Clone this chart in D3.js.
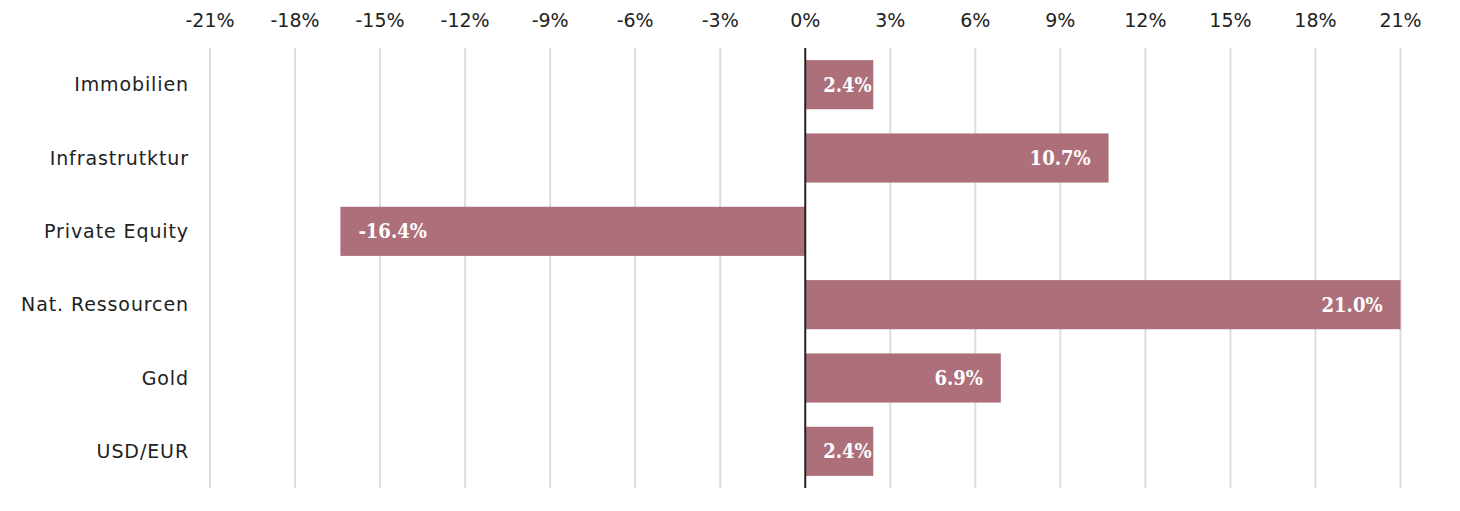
<!DOCTYPE html>
<html>
<head>
<meta charset="utf-8">
<script src="https://cdn.jsdelivr.net/npm/d3@7"></script>
<style>
  body { margin: 0; background: #fff; }
  .tick-label { font-family: "DejaVu Sans", sans-serif; font-size: 19px; fill: #222; }
  .cat-label { font-family: "DejaVu Sans", sans-serif; font-size: 19px; fill: #222; letter-spacing: 0.9px; }
  .bar-label { font-family: "DejaVu Serif", serif; font-stretch: condensed; font-size: 20px; font-weight: bold; fill: #fff; }
</style>
</head>
<body>
<div id="chart"></div>
<script>
// data
const categories = ["Immobilien", "Infrastrutktur", "Private Equity", "Nat. Ressourcen", "Gold", "USD/EUR"];
const values = [2.4, 10.7, -16.4, 21.0, 6.9, 2.4];
const tickValues = [-21, -18, -15, -12, -9, -6, -3, 0, 3, 6, 9, 12, 15, 18, 21];

const width = 1460;
const height = 511;
const margin = { top: 48, right: 60, bottom: 23, left: 210 };
const labelPad = 18;

const svg = d3.select("#chart")
  .append("svg")
  .attr("width", width)
  .attr("height", height);

const x = d3.scaleLinear()
  .domain([-21, 21])
  .range([margin.left, 1400.5]);

const y = d3.scaleBand()
  .domain(categories)
  .range([margin.top, height - margin.bottom])
  .paddingInner(0.33)
  .paddingOuter(0.165);

// grid lines
svg.append("g")
  .selectAll("line")
  .data(tickValues.filter(d => d !== 0))
  .enter()
  .append("line")
  .attr("x1", d => x(d))
  .attr("x2", d => x(d))
  .attr("y1", margin.top)
  .attr("y2", height - margin.bottom)
  .attr("stroke", "#dcdce0")
  .attr("stroke-width", 2);

// top tick labels
svg.append("g")
  .selectAll("text")
  .data(tickValues)
  .enter()
  .append("text")
  .attr("class", "tick-label")
  .attr("x", d => x(d))
  .attr("y", 20)
  .attr("dy", "0.35em")
  .attr("text-anchor", "middle")
  .text(d => d + "%");

// bars
svg.append("g")
  .selectAll("rect")
  .data(values)
  .enter()
  .append("rect")
  .attr("x", d => x(Math.min(0, d)))
  .attr("y", (d, i) => y(categories[i]))
  .attr("width", d => Math.abs(x(d) - x(0)))
  .attr("height", y.bandwidth())
  .attr("fill", "#ad707a");

// value labels inside bars (short bars: label starts just after the zero line)
svg.append("g")
  .selectAll("text")
  .data(values)
  .enter()
  .append("text")
  .attr("class", "bar-label")
  .attr("y", (d, i) => y(categories[i]) + y.bandwidth() / 2)
  .attr("dy", "0.35em")
  .text(d => d.toFixed(1) + "%")
  .each(function (d) {
    const w = this.getComputedTextLength();
    const barW = Math.abs(x(d) - x(0));
    const el = d3.select(this);
    if (d < 0) {
      el.attr("x", x(d) + labelPad).attr("text-anchor", "start");
    } else if (barW < w + 2 * labelPad) {
      el.attr("x", x(0) + labelPad).attr("text-anchor", "start");
    } else {
      el.attr("x", x(d) - labelPad).attr("text-anchor", "end");
    }
  });

// zero line
svg.append("line")
  .attr("x1", x(0))
  .attr("x2", x(0))
  .attr("y1", margin.top)
  .attr("y2", height - margin.bottom)
  .attr("stroke", "#222")
  .attr("stroke-width", 2);

// category labels
svg.append("g")
  .selectAll("text")
  .data(categories)
  .enter()
  .append("text")
  .attr("class", "cat-label")
  .attr("x", 189)
  .attr("y", d => y(d) + y.bandwidth() / 2)
  .attr("dy", "0.35em")
  .attr("text-anchor", "end")
  .text(d => d);
</script>
</body>
</html>
